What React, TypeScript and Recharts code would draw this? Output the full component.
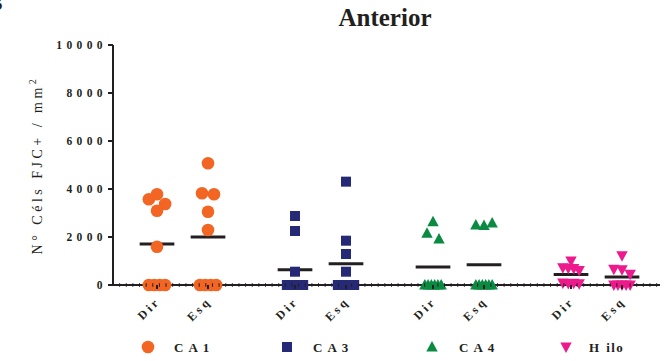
import React from 'react';
import { ScatterChart, Scatter, XAxis, YAxis, ReferenceLine } from 'recharts';

const SERIF = '"Liberation Serif", "Times New Roman", serif';
const INK = '#231f20';

const REGIONS = ['CA1', 'CA3', 'CA4', 'Hilo'];
const SIDES = ['Dir', 'Esq'];
const COLORS = ['#f26522', '#262a76', '#0b8a42', '#ec1a8c'];

// FJC+ cells per mm², one value per animal
const CA1_DIR = [3571, 3779, 3375, 3096, 1596, 0, 0, 0, 0];
const CA1_ESQ = [5071, 3821, 3779, 3054, 2292, 0, 0, 0, 0];
const CA3_DIR = [2875, 2250, 554, 0, 0, 0, 0, 0, 0];
const CA3_ESQ = [4306, 1846, 1292, 554, 0, 0, 0, 0, 0];
const CA4_DIR = [2639, 2153, 1917, 0, 0, 0, 0, 0, 0];
const CA4_ESQ = [2500, 2480, 2580, 0, 0, 0, 0, 0, 0];
const HILO_DIR = [1000, 720, 700, 690, 600, 80, 60, 70, 50];
const HILO_ESQ = [1220, 660, 640, 450, 0, 0, 0, 0, 0];

const VALUES = [
  [CA1_DIR, CA1_ESQ],
  [CA3_DIR, CA3_ESQ],
  [CA4_DIR, CA4_ESQ],
  [HILO_DIR, HILO_ESQ],
];

const Y_TICKS = [0, 2000, 4000, 6000, 8000, 10000];

// column layout in x units (1 unit = distance Dir -> Esq)
const GROUP_STEP = 2.706;
const X_DOMAIN: [number, number] = [-0.863, 9.863];
const MINOR_STEP = 0.13;
const MEAN_HALF = 0.34;

// scatter spreading of points with similar values
const ROW_TOL = 250;
const SPREAD = 0.235;
const MAX_SPREAD = 0.32;

const columnX = (g: number, s: number) => g * GROUP_STEP + s;

function spread(values: number[]) {
  const rows: { anchor: number; idx: number[] }[] = [];
  values.forEach((v, i) => {
    const row = rows.find((r) => Math.abs(r.anchor - v) < ROW_TOL);
    if (row) row.idx.push(i);
    else rows.push({ anchor: v, idx: [i] });
  });
  const out = new Array(values.length).fill(0);
  rows.forEach((r) => {
    const n = r.idx.length;
    const step = n > 1 ? Math.min(SPREAD, MAX_SPREAD / (n - 1)) : 0;
    r.idx.forEach((id, k) => {
      out[id] = (k - (n - 1) / 2) * step;
    });
  });
  return out;
}

const mean = (v: number[]) => v.reduce((a, b) => a + b, 0) / v.length;

const series = REGIONS.map((name, g) => ({
  name,
  color: COLORS[g],
  data: SIDES.flatMap((_, s) => {
    const vals = VALUES[g][s];
    const off = spread(vals);
    return vals.map((v, i) => ({ x: columnX(g, s) + off[i], y: v }));
  }),
}));

const means = REGIONS.flatMap((_, g) =>
  SIDES.map((_, s) => ({ x: columnX(g, s), y: mean(VALUES[g][s]) }))
);

const majorTicks = REGIONS.flatMap((_, g) => SIDES.map((_, s) => columnX(g, s)));
const minorTicks: number[] = [];
for (let t = X_DOMAIN[0] + MINOR_STEP; t < X_DOMAIN[1] - 0.02; t += MINOR_STEP) {
  if (majorTicks.every((m) => Math.abs(m - t) > 0.04)) minorTicks.push(+t.toFixed(4));
}
const xTicks = [...minorTicks, ...majorTicks].sort((a, b) => a - b);

function Marker({ kind, cx, cy, color }: { kind: number; cx: number; cy: number; color: string }) {
  if (kind === 0) return <circle cx={cx} cy={cy} r={6.3} fill={color} />;
  if (kind === 1) return <rect x={cx - 5} y={cy - 5} width={10} height={10} fill={color} />;
  if (kind === 2)
    return <polygon points={`${cx},${cy - 6} ${cx - 5.7},${cy + 4.5} ${cx + 5.7},${cy + 4.5}`} fill={color} />;
  return <polygon points={`${cx - 5.7},${cy - 4.5} ${cx + 5.7},${cy - 4.5} ${cx},${cy + 6}`} fill={color} />;
}

function XTick({ x, y, payload }: any) {
  const k = majorTicks.findIndex((m) => Math.abs(m - payload.value) < 1e-6);
  if (k < 0) return <line x1={x} x2={x} y1={y - 1.8} y2={y + 1.8} stroke={INK} strokeWidth={1} />;
  return (
    <g>
      <line x1={x} x2={x} y1={y} y2={y + 4} stroke={INK} strokeWidth={2} />
      <text
        transform={`translate(${x + 4},${y + 17}) rotate(-45)`}
        textAnchor="end"
        fontFamily={SERIF}
        fontWeight="bold"
        fontSize={12}
        letterSpacing={3}
        fill={INK}
      >
        {SIDES[k % 2]}
      </text>
    </g>
  );
}

function YTick({ x, y, payload }: any) {
  return (
    <text x={x + 1} y={y} dy={4} textAnchor="end" fontFamily={SERIF} fontWeight="bold" fontSize={11.5} letterSpacing={4.4} fill={INK}>
      {payload.value}
    </text>
  );
}

// legend label, the first letter set a bit apart as in the figure
function LegendLabel({ x, y, text }: { x: number; y: number; text: string }) {
  const tight = text === 'Hilo';
  return (
    <text x={x} y={y} fontFamily={SERIF} fontWeight="bold" fontSize={13} letterSpacing={tight ? 1.5 : 5} fill={INK}>
      {tight ? (
        <>
          <tspan letterSpacing={7}>{text[0]}</tspan>
          {text.slice(1)}
        </>
      ) : (
        text
      )}
    </text>
  );
}

const LEGEND_MARK_X = [148, 287, 432, 566];
const LEGEND_TEXT_X = [174, 313, 459, 589];
const LEGEND_Y = 347;

export default function App() {
  return (
    <div style={{ position: 'absolute', left: 0, top: 0, width: 664, height: 361, background: '#fff', fontFamily: SERIF, overflow: 'hidden' }}>
      <div style={{ position: 'absolute', left: -11, top: -8, fontSize: 20, fontWeight: 700, color: INK }}>B</div>
      <div style={{ position: 'absolute', left: 285, top: 4, width: 200, textAlign: 'center', fontSize: 25, fontWeight: 700, color: INK }}>
        Anterior
      </div>
      <ScatterChart width={664} height={361} margin={{ top: 45, right: 4, bottom: 46, left: 53 }}>
        <XAxis
          type="number"
          dataKey="x"
          domain={X_DOMAIN}
          ticks={xTicks}
          interval={0}
          allowDataOverflow
          height={30}
          tickSize={0}
          tickMargin={0}
          tickLine={false}
          axisLine={{ stroke: INK, strokeWidth: 2 }}
          tick={<XTick />}
        />
        <YAxis
          type="number"
          dataKey="y"
          domain={[0, 10000]}
          ticks={Y_TICKS}
          interval={0}
          width={60}
          tickSize={5}
          tickLine={{ stroke: INK, strokeWidth: 2 }}
          axisLine={{ stroke: INK, strokeWidth: 2 }}
          tick={<YTick />}
        />
        {series.map((s, g) => (
          <Scatter
            key={s.name}
            name={s.name}
            data={s.data}
            fill={s.color}
            isAnimationActive={false}
            shape={(p: any) => <Marker kind={g} cx={p.cx} cy={p.cy} color={s.color} />}
          />
        ))}
        {means.map((m, i) => (
          <ReferenceLine
            key={i}
            segment={[
              { x: m.x - MEAN_HALF, y: m.y },
              { x: m.x + MEAN_HALF, y: m.y },
            ]}
            stroke={INK}
            strokeWidth={3}
          />
        ))}
      </ScatterChart>
      <svg width={664} height={361} style={{ position: 'absolute', left: 0, top: 0, pointerEvents: 'none' }}>
        <text
          transform="translate(42,165) rotate(-90)"
          textAnchor="middle"
          fontFamily={SERIF}
          fontSize={14}
          letterSpacing={3.5}
          fill={INK}
        >
          N° Céls FJC+ / mm<tspan dy={-6} fontSize={10}>2</tspan>
        </text>
        {series.map((s, g) => (
          <g key={s.name}>
            <Marker kind={g} cx={LEGEND_MARK_X[g]} cy={LEGEND_Y} color={s.color} />
            <LegendLabel x={LEGEND_TEXT_X[g]} y={LEGEND_Y + 5} text={s.name} />
          </g>
        ))}
      </svg>
    </div>
  );
}
